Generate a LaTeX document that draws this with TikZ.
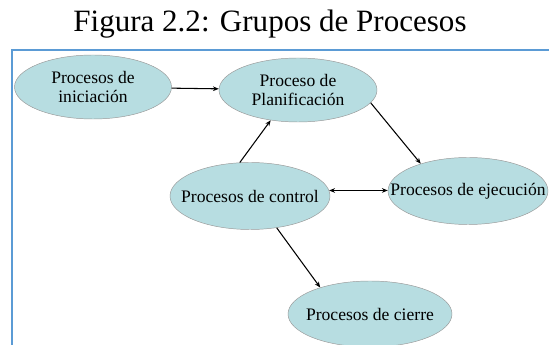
\documentclass[tikz,border=0pt]{standalone}
\usepackage{fontspec}
\setmainfont{Liberation Serif}
\usetikzlibrary{shapes.geometric,arrows.meta}
\definecolor{grupofill}{RGB}{183,221,225}
\definecolor{marco}{RGB}{91,155,213}

\begin{document}
\begin{tikzpicture}
  [x=0.03cm,y=-0.03cm,
    grupo/.style={ellipse,draw=gray!80,fill=grupofill,
      minimum width=160*0.03cm,minimum height=66*0.03cm,inner sep=-40pt,
      align=center,font=\fontsize{15}{17}\selectfont},
    flecha/.style={-{Stealth[length=5pt,width=4pt]},line width=0.9pt}]

  \useasboundingbox (0,0) rectangle (549,345);
  \node (titulo) at (270,24) {\fontsize{26.5}{30}\selectfont Figura 2.2: Grupos de Procesos};
  \draw[marco,line width=1pt] (12,345) -- (12,50) -- (549,50);

  \node[grupo,minimum width=157*0.03cm,minimum height=64*0.03cm] (inicio) at (93,87) {Procesos de\\iniciación};
  \node[grupo,minimum width=158*0.03cm,minimum height=64*0.03cm] (plan) at (298,90) {Proceso de\\Planificación};
  \node[grupo,minimum height=67*0.03cm] (control) at (250,196) {Procesos de control};
  \node[grupo,minimum height=67*0.03cm] (ejec) at (468,191) {Procesos de ejecución};
  \node[grupo,minimum width=164*0.03cm] (cierre) at (370,314) {Procesos de cierre};

  \draw[flecha] (inicio) -- (plan);
  \draw[flecha] (control.107) -- (plan.-132);
  \draw[flecha] (plan.-10) -- (ejec.150);
  \draw[flecha,{Stealth[length=5pt,width=4pt]}-{Stealth[length=5pt,width=4pt]}] (control.4) -- (ejec.west |- control.4);
  \draw[flecha] (control.-50) -- (cierre.152);
\end{tikzpicture}
\end{document}
